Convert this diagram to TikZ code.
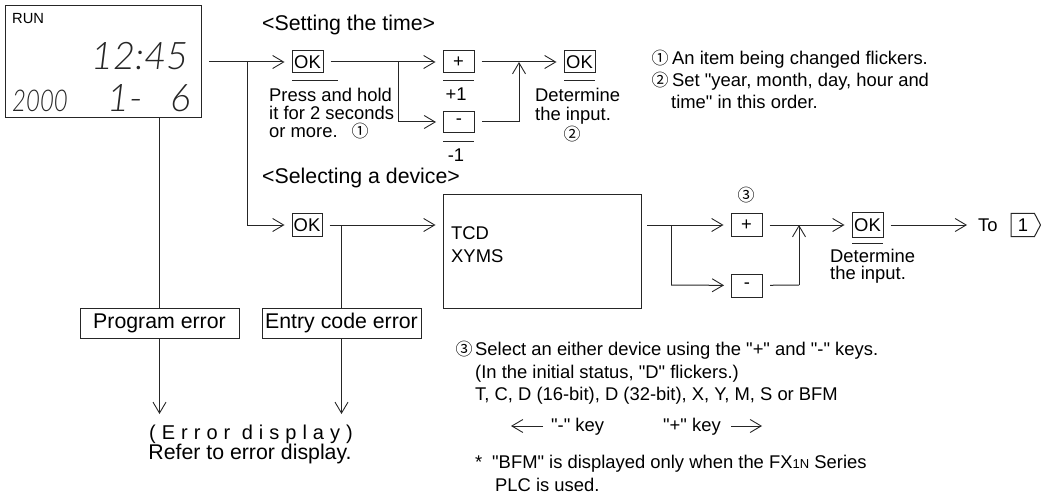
\documentclass[tikz,border=0pt]{standalone}
\usepackage{fontspec}
\usetikzlibrary{arrows.meta,calc}
\setmainfont{Liberation Sans}[Ligatures=TeXOff]
\newfontfamily\circfont{Noto Sans CJK JP}
\newfontfamily\lcdfont[ItalicFont={Lato Light Italic}]{Lato Light}
\newcommand{\cnum}[1]{{\circfont #1}}
\tikzset{
  ln/.style={draw=black!85,line width=1pt},
  flow/.style={ln,-{Straight Barb[length=11pt,width=13pt,line width=0.9pt]}},
  keybox/.style={ln,inner sep=0pt,minimum width=31pt,minimum height=22pt,font=\fontsize{18.4}{18.4}\selectfont},
  errbox/.style={ln,inner sep=0pt,minimum width=159pt,minimum height=30pt,font=\fontsize{21.3}{21.3}\selectfont},
  txt/.style={inner sep=0pt,anchor=base west,font=\fontsize{18.4}{18.4}\selectfont},
  bigtxt/.style={inner sep=0pt,anchor=base west,font=\fontsize{21.3}{21.3}\selectfont},
  circnum/.style={inner sep=0pt,anchor=base,font=\fontsize{17}{17}\selectfont},
  lcd/.style={inner sep=0pt,anchor=base,text=black!85,font=\lcdfont\itshape\fontsize{38}{38}\selectfont},
  gapS/.style={shorten <=7pt},
  gapE/.style={shorten >=7pt},
}
\begin{document}
\begin{tikzpicture}[x=1pt,y=-1pt]
\useasboundingbox (0,0) rectangle (1041,497);
% LCD
\node[ln,minimum width=196pt,minimum height=112pt,inner sep=0pt] (lcdbox) at (103,62) {};
\node[inner sep=0pt,anchor=base west,font=\fontsize{14.7}{14.7}\selectfont] (run) at (12,24) {RUN};
\node[lcd] (time) at (140,70) {12:45};
\node[lcd] (date) at (125,112) {1-};
\node[lcd] (day) at (181,112) {6};
\node[lcd,font=\lcdfont\itshape\fontsize{30}{30}\selectfont\addfontfeature{FakeStretch=0.8}] (year) at (40,112) {2000};
% top row
\coordinate (mainstart) at (209,62);
\coordinate (j1) at (247,62);
\coordinate (j2) at (247,225);
\node[bigtxt] (tsetting) at (262,31) {<Setting the time>};
\node[keybox] (ok1) at (307.5,62) {OK};
\node[keybox] (plus1) at (458.5,62) {+};
\node[keybox,minimum height=21pt] (minus1) at (459,122) {-};
\node[keybox] (ok2) at (579.5,62) {OK};
\coordinate (j3) at (398,62);
\coordinate (j4) at (398,122);
\coordinate (j5) at (519,62);
\coordinate (j6) at (519,122);
\draw[ln] (mainstart) -- (j1);
\draw[flow,gapE] (j1) -- (ok1);
\draw[ln,gapS] (ok1) -- (j3);
\draw[flow,gapE] (j3) -- (plus1);
\draw[ln] (j3) -- (j4);
\draw[flow,gapE] (j4) -- (minus1);
\draw[ln,gapS] (plus1) -- (j5);
\draw[ln,gapS] (minus1) -- (j6);
\draw[flow] (j6) -- (j5);
\draw[flow,gapE] (j5) -- (ok2);
% bars and captions
\coordinate (b1a) at (292,81); \coordinate (b1b) at (338,81);
\draw[ln] (b1a) -- (b1b);
\coordinate (b2a) at (443,81); \coordinate (b2b) at (474,81);
\draw[ln] (b2a) -- (b2b);
\coordinate (b3a) at (443,142); \coordinate (b3b) at (474,142);
\draw[ln] (b3a) -- (b3b);
\coordinate (b4a) at (564,81); \coordinate (b4b) at (595,81);
\draw[ln] (b4a) -- (b4b);
\node[txt] (press1) at (269,102) {Press and hold};
\node[txt] (press2) at (269,120) {it for 2 seconds};
\node[txt] (press3) at (269,138) {or more.};
\node[circnum] (c1a) at (360,138) {\cnum{①}};
\node[txt,anchor=base] (p1) at (456,101) {+1};
\node[txt,anchor=base] (m1) at (456,162) {-1};
\node[txt] (det1) at (535,102) {Determine};
\node[txt] (det2) at (535,121) {the input.};
\node[circnum] (c2a) at (572,141) {\cnum{②}};
% notes top
\node[circnum] (n1c) at (660,65) {\cnum{①}};
\node[txt] (n1) at (672,65) {An item being changed flickers.};
\node[circnum] (n2c) at (660,87) {\cnum{②}};
\node[txt] (n2) at (672,87) {Set "year, month, day, hour and};
\node[txt] (n3) at (671,109) {time" in this order.};
% second row
\node[bigtxt] (tsel) at (262,184) {<Selecting a device>};
\node[keybox,minimum width=30pt,minimum height=23pt] (ok3) at (307,225) {OK};
\node[ln,minimum width=198pt,minimum height=113pt,inner sep=0pt] (tcd) at (542,251.5) {};
\node[txt] (tcd1) at (451,239) {TCD};
\node[txt] (tcd2) at (451,262) {XYMS};
\node[circnum] (c3) at (746,202) {\cnum{③}};
\node[keybox,minimum height=23pt] (plus2) at (746.5,225) {+};
\node[keybox,minimum height=23pt] (minus2) at (747,285.5) {-};
\node[keybox,minimum height=24pt] (ok4) at (867.5,225) {OK};
\draw[ln] (852,243) coordinate (b5a) -- (883,243) coordinate (b5b);
\node[txt] (det3) at (830,262) {Determine};
\node[txt] (det4) at (830,279) {the input.};
\node[txt] (to) at (978,232) {To};
\draw[ln] (1011,213.5) coordinate (p1a) -- (1034.5,213.5) -- (1040.5,225) -- (1034.5,236.5) -- (1011,236.5) -- cycle;
\node[inner sep=0pt,font=\fontsize{18.4}{18.4}\selectfont] (one) at (1023,225) {1};
\coordinate (k1) at (647,225);
\coordinate (k2) at (671,225);
\coordinate (k3) at (671,285);
\coordinate (k4) at (799,225);
\coordinate (k5) at (799,285);
\draw[ln] (j1) -- (j2);
\draw[flow,gapE] (j2) -- (ok3);
\draw[ln] (k1) -- (k2);
\draw[flow,gapE] (k2) -- (plus2);
\draw[ln] (k2) -- (k3);
\draw[flow,gapE] (k3) -- (minus2);
\draw[ln,gapS] (plus2) -- (k4);
\draw[ln,gapS] (minus2) -- (k5);
\draw[flow] (k5) -- (k4);
\draw[flow,gapE] (k4) -- (ok4);
\coordinate (toend) at (967,225);
\draw[flow,gapS] (ok4) -- (toend);
\coordinate (oktap) at (341,225);
\draw[flow,gapS,gapE] (ok3) -- (oktap -| tcd.west);
% errors
\node[errbox] (perr) at (159.5,323) {Program error};
\node[errbox] (eerr) at (341.5,323) {Entry code error};
\coordinate (a1) at (159.5,414);
\coordinate (a2) at (341.5,414);
\draw[ln] (lcdbox.south -| perr) -- (perr);
\draw[ln] (oktap) -- (oktap |- eerr.north);
\draw[flow] (perr) -- (a1);
\draw[flow] (eerr) -- (a2);
\node[inner sep=0pt,anchor=base,font=\fontsize{20}{20}\selectfont\addfontfeature{LetterSpace=30}] (ed) at (251,439) {(Error display)};
\node[inner sep=0pt,anchor=base,font=\fontsize{21.3}{21.3}\selectfont] (rf) at (250,459) {Refer to error display.};
% note 3
\node[circnum] (n4c) at (464,355) {\cnum{③}};
\node[txt] (n4) at (475,355) {Select an either device using the "+" and "-" keys.};
\node[txt] (n5) at (475,378) {(In the initial status, "D" flickers.)};
\node[txt] (n6) at (475,400) {T, C, D (16-bit), D (32-bit), X, Y, M, S or BFM};
\coordinate (l1) at (543,426); \coordinate (l2) at (511,426);
\draw[flow] (l1) -- (l2);
\node[txt] (n7) at (551,431) {"-" key};
\node[txt] (n8) at (663,431) {"+" key};
\coordinate (r1) at (731,426); \coordinate (r2) at (762,426);
\draw[flow] (r1) -- (r2);
\node[txt] (n9) at (475,468) {*};
\node[txt] (n10) at (492,468) {"BFM" is displayed only when the FX{\fontsize{13}{13}\selectfont 1N} Series};
\node[txt] (n11) at (495,491) {PLC is used.};
\end{tikzpicture}
\end{document}
